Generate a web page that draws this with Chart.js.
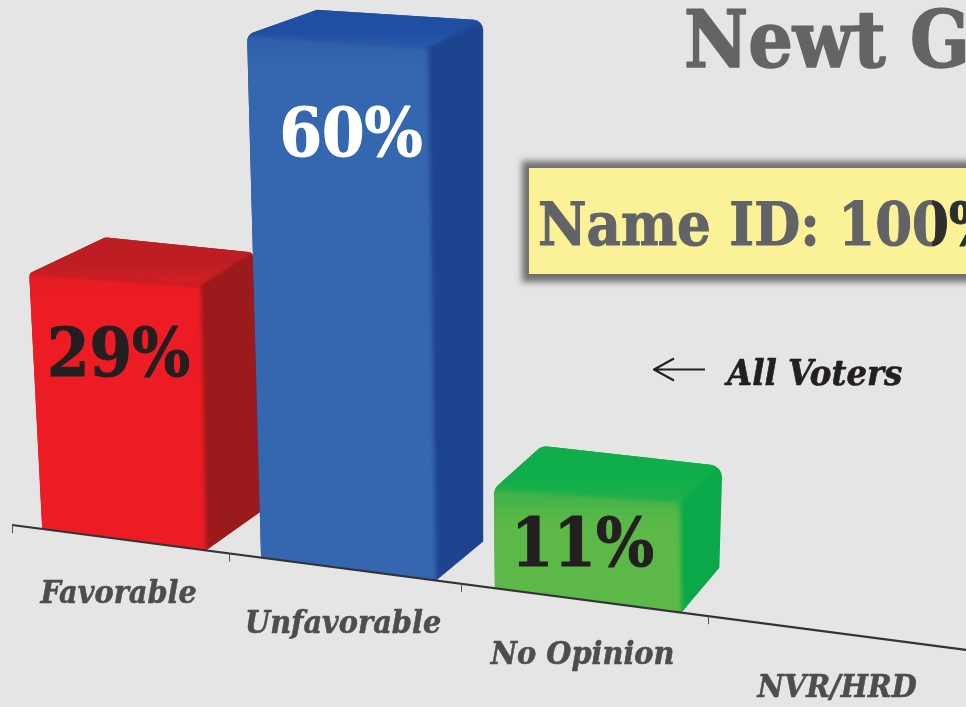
<!DOCTYPE html>
<html>
<head>
<meta charset="utf-8">
<style>
html,body{margin:0;padding:0;background:#e5e5e5;overflow:hidden}
canvas{display:block}
</style>
<script src="https://cdn.jsdelivr.net/npm/chart.js@4/dist/chart.umd.js"></script>
</head>
<body>
<canvas id="c" width="966" height="707"></canvas>
<script>
// ---- data ----
const categories = ['Favorable', 'Unfavorable', 'No Opinion', 'NVR/HRD'];
const values = [29, 60, 11, null];
const valueLabels = ['29%', '60%', '11%', ''];
const titleText = 'Newt G';
const nameIdText = 'Name ID: 100%';
const noteText = 'All Voters';

// ---- styling ----
const SERIF = '"DejaVu Serif Condensed","DejaVu Serif",serif';
const faces = [
  {front:'#ed1c24', frontTop:'#e51d25', top:'#be1e23', topNear:'#d42026', side:'#9b1a1c', leanL:13, leanR:5, dTL:[76,-36], dTR:[52,-33], dB:[55,-39], r:5, labelDx:0, labelDy:97, labelColor:'#231f20'},
  {front:'#3566b0', frontTop:'#2f5fab', top:'#1f4fa3', topNear:'#2a5aaa', side:'#1f448f', leanL:14, leanR:8, dTL:[70,-25], dTR:[55,-27], dB:[47,-39], r:10, labelDx:8, labelDy:115, labelColor:'#ffffff'},
  {front:'#5cb947', frontTop:'#3cb34a', top:'#10ae4a', topNear:'#1fb04a', side:'#0ba84a', leanL:1, leanR:1, dTL:[48,-43], dTR:[42,-36], dB:[38,-45], r:13, labelDx:0, labelDy:70, labelColor:'#231f20'}
];
const AXIS_START = 12, AXIS_SLOPE = 0.131, STEP = 209.5, GROWTH = 7.5;
const BAR_FRACTION = 0.755, BAR_SHIFT = 5.5, TOP_SLOPE = 0.07, LIP = 10, TICK_LEN = 8;

// category scale with the picture's receding perspective
class PerspectiveScale extends Chart.CategoryScale {
  static id = 'perspective';
  static defaults = Chart.CategoryScale.defaults;
  warp(t){ return AXIS_START + STEP * t + GROWTH * t * t; }
  axisY(x){ return this.top + AXIS_SLOPE * (x - AXIS_START); }
  getPixelForValue(v){
    if (typeof v !== 'number') v = this.parse(v);
    return this.warp(v + 0.5);
  }
  getPixelForTick(i){ return this.warp(i + 0.5); }
  _computeLabelItems(area){
    const items = super._computeLabelItems(area);
    items.forEach((it, i) => {
      const x = this.warp(i + 0.5);
      it.options.translation = [x, this.axisY(x) + 56];
      it.options.textBaseline = 'middle';
      it.options.textAlign = 'center';
      it.textOffset = 0;
    });
    return items;
  }
  drawBorder(){
    const ctx = this.ctx;
    ctx.save();
    ctx.strokeStyle = '#333335';
    ctx.lineWidth = 2.2;
    ctx.beginPath();
    ctx.moveTo(AXIS_START, this.axisY(AXIS_START));
    ctx.lineTo(966, this.axisY(966));
    ctx.stroke();
    ctx.lineWidth = 1;
    ctx.strokeStyle = '#555';
    for (let t = 0; t < categories.length; t++) {
      const x = Math.round(this.warp(t)) + 0.5;
      ctx.beginPath();
      ctx.moveTo(x, this.axisY(x));
      ctx.lineTo(x, this.axisY(x) + TICK_LEN);
      ctx.stroke();
    }
    ctx.restore();
  }
}
Chart.register(PerspectiveScale);

function roundedPoly(ctx, pts, radii){
  const n = pts.length;
  const s = [(pts[n-1][0]+pts[0][0])/2, (pts[n-1][1]+pts[0][1])/2];
  ctx.beginPath();
  ctx.moveTo(s[0], s[1]);
  for (let i = 0; i < n; i++) {
    const a = pts[i], b = pts[(i+1)%n];
    ctx.arcTo(a[0], a[1], b[0], b[1], radii[i]);
  }
  ctx.closePath();
}
function poly(ctx, pts){
  ctx.beginPath();
  pts.forEach((p, i) => i ? ctx.lineTo(p[0], p[1]) : ctx.moveTo(p[0], p[1]));
  ctx.closePath();
}

// every bar keeps the library's x / y / base / width, drawn as a 3-D block
Chart.BarElement.prototype.draw = function(ctx){
  const f = this.face, sx = this.xScale;
  if (!f) return;
  const cx = this.x + BAR_SHIFT, w = this.width;
  const xL = cx - w/2, xR = cx + w/2;
  const h = this.base - this.y + LIP;
  const topC = sx.axisY(cx) - h;
  const tl = xL - f.leanL, tr = xR - f.leanR;
  const TL = [tl, topC - TOP_SLOPE * (tr - tl)/2];
  const TR = [tr, topC + TOP_SLOPE * (tr - tl)/2];
  const BL = [xL, sx.axisY(xL)];
  const BR = [xR, sx.axisY(xR)];
  const BTL = [TL[0]+f.dTL[0], TL[1]+f.dTL[1]];
  const BTR = [TR[0]+f.dTR[0], TR[1]+f.dTR[1]];
  const BB = [BR[0]+f.dB[0], BR[1]+f.dB[1]];
  ctx.save();
  // silhouette of the whole block, with softened corners
  roundedPoly(ctx, [TL, BTL, BTR, BB, BR, BL], [f.r, f.r, f.r, 0, 0, 0]);
  ctx.clip();
  // side
  ctx.fillStyle = f.side;
  ctx.fillRect(tl - 10, BTL[1] - 20, BB[0] - tl + 90, BR[1] - BTL[1] + 40);
  // top (overdrawn past the silhouette, the clip trims it)
  ctx.filter = 'blur(1.5px)';
  const gt = ctx.createLinearGradient(0, BTL[1], 0, TR[1]);
  gt.addColorStop(0, f.top); gt.addColorStop(0.6, f.top); gt.addColorStop(1, f.topNear);
  ctx.fillStyle = gt;
  poly(ctx, [TL, [TL[0]-10, BTL[1]-12], [BTR[0]+12, BTL[1]-12], [BTR[0]+12, BTR[1]-6], BTR, TR]);
  ctx.fill();
  // front
  ctx.filter = 'blur(2px)';
  const gf = ctx.createLinearGradient(0, TL[1], 0, TR[1] + 22);
  gf.addColorStop(0, f.frontTop); gf.addColorStop(1, f.front);
  ctx.fillStyle = gf;
  poly(ctx, [[TL[0]-10, TL[1]], TL, TR, BR, [BR[0], BR[1]+10], [BL[0]-10, BL[1]+10]]);
  ctx.fill();
  ctx.restore();
  this.labelAt = [this.x + f.labelDx, topC + f.labelDy];
};

function heavyText(ctx, text, x, y, weight){
  ctx.lineWidth = weight;
  ctx.lineJoin = 'round';
  ctx.strokeStyle = ctx.fillStyle;
  ctx.strokeText(text, x, y);
  ctx.fillText(text, x, y);
}

const blockPlugin = {
  id: 'blocks',
  afterDatasetsUpdate(chart){
    const sx = chart.scales.x;
    chart.getDatasetMeta(0).data.forEach((bar, i) => {
      bar.face = faces[i];
      bar.xScale = sx;
      bar.width = BAR_FRACTION * (sx.warp(i + 1) - sx.warp(i));
    });
  },
  afterDatasetsDraw(chart){
    const ctx = chart.ctx;
    ctx.save();
    ctx.textBaseline = 'alphabetic';
    ctx.textAlign = 'center';
    chart.getDatasetMeta(0).data.forEach((bar, i) => {
      if (!bar.labelAt || !valueLabels[i]) return;
      ctx.font = 'bold 68px ' + SERIF;
      ctx.fillStyle = faces[i].labelColor;
      heavyText(ctx, valueLabels[i], bar.labelAt[0], bar.labelAt[1], 1);
    });
    ctx.restore();
  },
  afterDraw(chart){
    const ctx = chart.ctx;
    ctx.save();
    // title
    ctx.textAlign = 'left';
    ctx.textBaseline = 'alphabetic';
    ctx.font = 'bold 78px ' + SERIF;
    ctx.fillStyle = '#636466';
    heavyText(ctx, titleText, 684, 67, 1.5);
    // name-ID box
    ctx.save();
    ctx.filter = 'blur(3px)';
    ctx.fillStyle = '#6f6f6f';
    ctx.fillRect(522, 161, 470, 121);
    ctx.restore();
    ctx.fillStyle = '#fbf298';
    ctx.fillRect(529, 168, 460, 106);
    const g = ctx.createLinearGradient(0, 0, 966, 0);
    g.addColorStop(0, '#616366');
    g.addColorStop(932/966, '#616366');
    g.addColorStop(932/966, '#2e2e2e');
    g.addColorStop(1, '#2e2e2e');
    ctx.fillStyle = g;
    ctx.font = 'bold 59px ' + SERIF;
    ctx.lineWidth = 1;
    ctx.strokeStyle = g;
    ctx.strokeText(nameIdText, 538, 245);
    ctx.fillText(nameIdText, 538, 245);
    // note with arrow
    ctx.strokeStyle = '#231f20';
    ctx.lineWidth = 2;
    ctx.beginPath();
    ctx.moveTo(705, 369.5); ctx.lineTo(654, 369.5);
    ctx.moveTo(674, 358.5); ctx.lineTo(654, 369.5); ctx.lineTo(674, 380.5);
    ctx.stroke();
    ctx.fillStyle = '#231f20';
    ctx.font = 'italic bold 36px ' + SERIF;
    heavyText(ctx, noteText, 727, 385, 0.6);
    ctx.restore();
  }
};

new Chart(document.getElementById('c'), {
  type: 'bar',
  data: {
    labels: categories,
    datasets: [{ data: values, backgroundColor: faces.map(f => f.front), clip: false }]
  },
  options: {
    responsive: false,
    animation: false,
    layout: { padding: { top: 7, left: 12, right: 0, bottom: 0 } },
    plugins: { legend: { display: false }, tooltip: { enabled: false }, title: { display: false } },
    scales: {
      x: {
        type: 'perspective',
        afterFit(s){ s.height = 182; },
        grid: { display: false },
        border: { display: true, z: 1 },
        ticks: { autoSkip: false, maxRotation: 0, minRotation: 0, color: '#4d4d4f',
                 textStrokeColor: '#4d4d4f', textStrokeWidth: 0.5,
                 font: { family: SERIF, size: 32, style: 'italic', weight: 'bold' } }
      },
      y: { display: false, min: 0, max: 60 }
    }
  },
  plugins: [blockPlugin]
});
</script>
</body>
</html>
